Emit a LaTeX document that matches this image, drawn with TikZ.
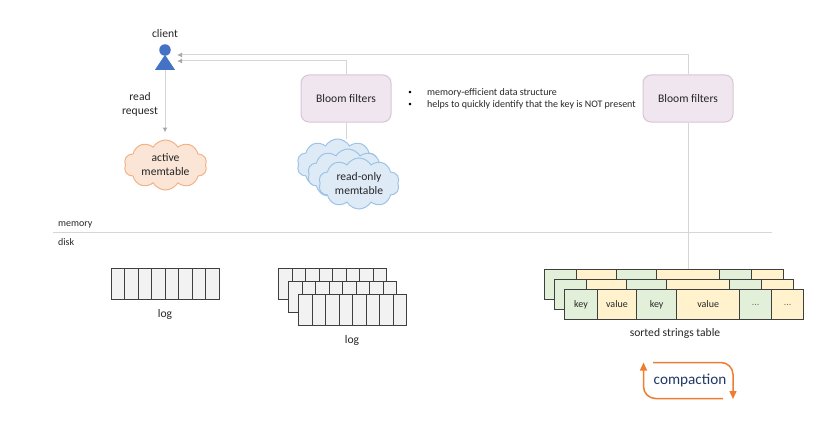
\documentclass[tikz,border=0pt]{standalone}
\usepackage{fontspec}
\setmainfont{Carlito}
\usetikzlibrary{arrows}
\usetikzlibrary{arrows.meta}
\usetikzlibrary{shapes.geometric}
\usetikzlibrary{shapes.symbols}
\definecolor{linegray}{HTML}{D6D6D6}
\definecolor{tipgray}{HTML}{A8A8A8}
\definecolor{cellgray}{HTML}{F2F2F2}
\definecolor{celledge}{HTML}{3F3F3F}
\definecolor{keygreen}{HTML}{E2F0D9}
\definecolor{valyellow}{HTML}{FFF2CC}
\definecolor{personblue}{HTML}{4472C4}
\definecolor{compactnavy}{HTML}{203864}
\definecolor{compactorange}{HTML}{ED7D31}
\definecolor{bloomfill}{HTML}{EFE6EF}
\definecolor{bloomedge}{HTML}{D9C3D5}
\definecolor{activefill}{HTML}{FBE5D6}
\definecolor{activeedge}{HTML}{F4B183}
\definecolor{rofill}{HTML}{DEEBF7}
\definecolor{roedge}{HTML}{9DC3E6}
\newcommand{\moredots}{\textcolor{black!55}{...}}
\tikzset{txt/.style={font=\fontsize{11.6}{14}\selectfont, text=black!85, inner sep=0pt}}
\tikzset{small/.style={font=\fontsize{10}{12}\selectfont, text=black!85, inner sep=0pt}}
\tikzset{link/.style={draw=linegray, line width=1pt}}
\tikzset{linkarrow/.style={link, -{Latex[length=5pt,width=5pt,color=tipgray]}}}
\tikzset{bloom/.style={draw=bloomedge, fill=bloomfill, line width=1pt, rounded corners=8pt, minimum width=90pt, minimum height=47pt, txt}}
\tikzset{puff/.style={cloud, cloud puffs=10, cloud puff arc=120, cloud ignores aspect, line width=1pt, inner sep=0pt, align=center, txt}}
\tikzset{bluepuff/.style={puff, draw=roedge, fill=rofill, minimum width=81pt, minimum height=51pt}}
\tikzset{logcell/.style={draw=celledge, fill=cellgray, line width=1pt}}
\tikzset{sstcell/.style={draw=celledge, line width=1pt, anchor=west, minimum height=30.4pt, inner sep=0pt, small}}
\tikzset{turn/.style={draw=compactorange, line width=1.5pt, rounded corners=12pt, -{Triangle[length=8pt,width=7pt]}}}
\begin{document}
\begin{tikzpicture}[x=1pt,y=-1pt]
	\useasboundingbox (0,0) rectangle (830,428);
	% client
	\node[txt] (clientlabel) at (165,34) {client};
	\node[circle, fill=personblue, inner sep=0pt, minimum width=11.5pt] (head) at (165,50) {};
	\node[isosceles triangle, shape border rotate=90, isosceles triangle apex angle=67, fill=personblue, inner sep=0pt, minimum height=15pt, minimum width=20pt] (body) at (165,64.5) {};
	\coordinate (intop) at (177,55);
	\coordinate (inlow) at (177,61);
	\node[txt, align=center] (readlabel) at (140,104.5) {read\\request};
	% memtables
	\node[puff, draw=activeedge, fill=activefill, minimum width=83pt, minimum height=50pt] (active) at (165.5,165) {active\\memtable};
	\node[bloom] (bloomA) at (346,98.5) {Bloom filters};
	\node[bloom] (bloomB) at (688,98.5) {Bloom filters};
	\node[bluepuff] (roA) at (337.5,164.5) {};
	\node[bluepuff] (roB) at (348,174.5) {};
	\node[bluepuff] (roC) at (359,183.5) {read-only\\memtable};
	\draw[linkarrow] (body.south) -- ([yshift=7pt]body.south |- active.north);
	\draw[link] (bloomA.south) -- (bloomA.south |- roA.north);
	\draw[linkarrow] (bloomA.north) |- (inlow);
	\draw[linkarrow] (bloomB.north) |- (intop);
	% notes
	\node[font=\fontsize{7}{12}\selectfont, inner sep=0pt] (dotA) at (410,92.5) {•};
	\node[font=\fontsize{7}{12}\selectfont, inner sep=0pt] (dotB) at (410,104.5) {•};
	\node[small, anchor=west] (noteA) at (427,92.5) {memory-efficient data structure};
	\node[small, anchor=west] (noteB) at (427,104.5) {helps to quickly identify that the key is NOT present};
	% memory and disk
	\coordinate (splitL) at (53,232);
	\coordinate (splitR) at (772,232);
	\draw[link] (splitL) -- (splitR);
	\node[small, anchor=west] (memlabel) at (58,225) {memory};
	\node[small, anchor=west] (disklabel) at (58,242.5) {disk};
	% logs
	\foreach \i in {0,...,7}
		\draw[logcell] (111+13.5*\i,268) rectangle ++(13.5,31);
	\node[txt] (logA) at (165,314) {log};
	\foreach \ox/\oy in {278.5/268,288.5/281,298.5/294}
		\foreach \i in {0,...,7}
			\draw[logcell] (\ox+13.5*\i,\oy) rectangle ++(13.5,31);
	\node[txt] (logB) at (352,340) {log};
	% sorted strings table
	\foreach \ox/\oy in {544.3/284.2,554.5/294.2}
		\foreach \x/\w/\c in {0/32.3/keygreen,32.3/39.7/valyellow,72/39.7/keygreen,111.7/63.3/valyellow,175/31.7/keygreen,206.7/32.3/valyellow}
			\draw[draw=celledge, line width=1pt, fill=\c] (\ox+\x,\oy-15.2) rectangle ++(\w,30.4);
	\foreach \x/\w/\c/\t/\n in {0/32.3/keygreen/key/a,32.3/39.7/valyellow/value/b,72/39.7/keygreen/key/c,111.7/63.3/valyellow/value/d,175/31.7/keygreen/\moredots/e,206.7/32.3/valyellow/\moredots/f}
		\node[sstcell, fill=\c, minimum width=\w pt] (sst\n) at (564.3+\x,304.5) {\t};
	\coordinate (ssttop) at (688,269);
	\draw[link] (bloomB.south) -- (ssttop);
	\node[txt] (sstlabel) at (675,333.5) {sorted strings table};
	% compaction
	\node[font=\fontsize{15.2}{18}\selectfont, text=compactnavy, inner sep=0pt] (compact) at (690,380.5) {compaction};
	\coordinate (turnAa) at (653,362.5);
	\coordinate (turnAb) at (733,362.5);
	\coordinate (turnAc) at (733,399);
	\coordinate (turnBa) at (723,398.5);
	\coordinate (turnBb) at (643.5,398.5);
	\coordinate (turnBc) at (643.5,362.5);
	\draw[turn] (turnAa) -- (turnAb) -- (turnAc);
	\draw[turn] (turnBa) -- (turnBb) -- (turnBc);
\end{tikzpicture}
\end{document}
